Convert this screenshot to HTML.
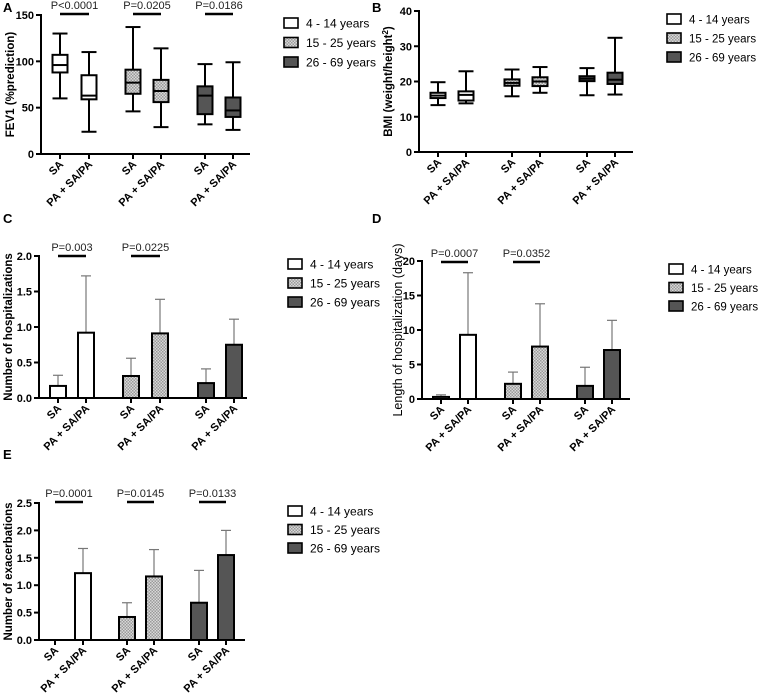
<!DOCTYPE html>
<html><head><meta charset="utf-8"><style>
body{margin:0;background:#fff}
svg{display:block;font-family:"Liberation Sans",Arial,sans-serif}
</style></head><body>
<svg id="fig" width="758" height="694" viewBox="0 0 758 694">
<defs>
<pattern id="dots" width="3" height="3" patternUnits="userSpaceOnUse">
<rect width="3" height="3" fill="#d8d8d8"/><rect width="1.5" height="1.5" fill="#9a9a9a"/><rect x="1.5" y="1.5" width="1.5" height="1.5" fill="#9a9a9a"/>
</pattern>
</defs>
</svg>
<script>
const categories = ["SA","PA + SA/PA","SA","PA + SA/PA","SA","PA + SA/PA"];
const groupLabels = ["4 - 14 years","15 - 25 years","26 - 69 years"];
// Panel A box stats
const fevMin=[60,24,46,29,32,26], fevQ1=[88,59,65,56,43,40], fevMed=[96,63,77,68,63,47], fevQ3=[107,85,91,80,73,61], fevMax=[130,110,137,114,97,99];
const fevTicks=[0,50,100,150];
const fevP=["P<0.0001","P=0.0205","P=0.0186"];
// Panel B
const bmiMin=[13.3,13.8,15.8,16.8,16.1,16.3], bmiQ1=[15.3,14.6,18.8,18.7,20.1,19.3], bmiMed=[16,16.2,19.6,20,20.8,20.5], bmiQ3=[16.8,17.2,20.6,21.2,21.5,22.5], bmiMax=[19.8,22.9,23.4,24.1,23.8,32.4];
const bmiTicks=[0,10,20,30,40];
// Panel C
const hospMean=[0.17,0.92,0.31,0.91,0.21,0.75], hospErr=[0.32,1.72,0.56,1.39,0.41,1.11];
const hospTicks=[0,0.5,1.0,1.5,2.0];
const hospP=["P=0.003","P=0.0225"];
// Panel D
const losMean=[0.3,9.3,2.2,7.6,1.9,7.1], losErr=[0.6,18.3,3.9,13.8,4.6,11.4];
const losTicks=[0,5,10,15,20];
const losP=["P=0.0007","P=0.0352"];
// Panel E
const exMean=[0,1.22,0.42,1.16,0.68,1.55], exErr=[0,1.67,0.68,1.65,1.27,2.0];
const exTicks=[0,0.5,1.0,1.5,2.0,2.5];
const exP=["P=0.0001","P=0.0145","P=0.0133"];

const NS="http://www.w3.org/2000/svg";
const svg=document.getElementById('fig');
const fills=["#ffffff","url(#dots)","#555555"];
function el(tag,attrs,parent,text){const e=document.createElementNS(NS,tag);for(const k in attrs)e.setAttribute(k,attrs[k]);if(text!==undefined)e.textContent=text;(parent||svg).appendChild(e);return e;}

function panel(cfg){
  const g=el('g',{});
  
  
  const y=v=>cfg.y0+(cfg.y1-cfg.y0)*(v-cfg.ticks[0])/(cfg.ticks[cfg.ticks.length-1]-cfg.ticks[0]);
  const lt=el('text',{x:cfg.lx,y:cfg.ly,'font-size':13,'font-weight':'bold'},g,cfg.letter);
  
  
  const ax=el('line',{x1:cfg.ax,y1:cfg.y1-1,x2:cfg.ax,y2:cfg.y0+1,stroke:'#000','stroke-width':2},g);
  
  
  const xa=el('line',{x1:cfg.ax-1,y1:cfg.y0,x2:cfg.axEnd,y2:cfg.y0,stroke:'#000','stroke-width':2},g);
  
  
  cfg.ticks.forEach(t=>{
    el('line',{x1:cfg.ax-5,y1:y(t),x2:cfg.ax,y2:y(t),stroke:'#000','stroke-width':2},g);
    const tl=el('text',{x:cfg.ax-7,y:y(t)+4,'font-size':11,'font-weight':'bold','text-anchor':'end'},g,cfg.fmt(t));
    
    
  });
  const yt=el('text',{transform:`translate(${cfg.ytx},${(cfg.y0+cfg.y1)/2}) rotate(-90)`,'font-size':cfg.ytSize||11.5,'font-weight':cfg.ytWeight||'bold','text-anchor':'middle'},g);
  
  
  yt.innerHTML=cfg.ytitle;
  cfg.cx.forEach((cx,i)=>{
    el('line',{x1:cx,y1:cfg.y0,x2:cx,y2:cfg.y0+5,stroke:'#000','stroke-width':2},g);
    const xl=el('text',{transform:`translate(${cx+4},${cfg.y0+11}) rotate(-45)`,'font-size':11,'font-weight':'bold','text-anchor':'end'},g,categories[i]);
    
    
  });
  cfg.cx.forEach((cx,i)=>{
    const f=fills[Math.floor(i/2)];
    if(cfg.type==='box'){
      const w=15;
      const wl=el('line',{x1:cx,y1:y(cfg.max[i]),x2:cx,y2:y(cfg.min[i]),stroke:'#000','stroke-width':2},g);
      
      
      el('line',{x1:cx-w/2,y1:y(cfg.max[i]),x2:cx+w/2,y2:y(cfg.max[i]),stroke:'#000','stroke-width':2},g);
      el('line',{x1:cx-w/2,y1:y(cfg.min[i]),x2:cx+w/2,y2:y(cfg.min[i]),stroke:'#000','stroke-width':2},g);
      const b=el('rect',{x:cx-w/2,y:y(cfg.q3[i]),width:w,height:y(cfg.q1[i])-y(cfg.q3[i]),fill:f,stroke:'#000','stroke-width':2},g);
      
      
      el('line',{x1:cx-w/2,y1:y(cfg.med[i]),x2:cx+w/2,y2:y(cfg.med[i]),stroke:'#000','stroke-width':2},g);
    } else {
      const w=16;
      if(cfg.err[i]>cfg.mean[i]){
        const e=el('line',{x1:cx,y1:y(cfg.err[i]),x2:cx,y2:y(cfg.mean[i]),stroke:'#777','stroke-width':1.2},g);
        
        
        el('line',{x1:cx-5,y1:y(cfg.err[i]),x2:cx+5,y2:y(cfg.err[i]),stroke:'#777','stroke-width':1.2},g);
      }
      if(cfg.mean[i]>0){
        const b=el('rect',{x:cx-w/2,y:y(cfg.mean[i]),width:w,height:cfg.y0-y(cfg.mean[i]),fill:f,stroke:'#000','stroke-width':2},g);
        
        
      }
    }
  });
  cfg.pvals.forEach((p,k)=>{
    const a=cfg.cx[2*k],b=cfg.cx[2*k+1];
    const pl=el('line',{x1:a,y1:cfg.py,x2:b,y2:cfg.py,stroke:'#000','stroke-width':2.5},g);
    
    
    const pt=el('text',{x:(a+b)/2,y:cfg.py-5,'font-size':11,'text-anchor':'middle',fill:'#222'},g,p);
    
    
  });
  const lg=el('g',{},g);
  
  
  groupLabels.forEach((s,k)=>{
    const ry=cfg.legY+k*cfg.legDy;
    el('rect',{x:cfg.legX,y:ry-5,width:14,height:10,fill:fills[k],stroke:'#000','stroke-width':1.6},lg);
    const t=el('text',{x:cfg.legX+22,y:ry+4.5,'font-size':cfg.legFont},lg,s);
    
    
  });
}
const fmt0=t=>String(t), fmt1=t=>t.toFixed(1);
panel({name:'panel-a-fev1',letter:'A',lx:3,ly:12,type:'box',ax:41,axEnd:250,y0:154,y1:15,ticks:fevTicks,fmt:fmt0,ytx:14,ytitle:'FEV1 (%prediction)',cx:[60,89,133,161,205,233],min:fevMin,q1:fevQ1,med:fevMed,q3:fevQ3,max:fevMax,pvals:fevP,py:14,legX:284,legY:23,legDy:19.5,legFont:12});
panel({name:'panel-b-bmi',letter:'B',lx:372,ly:12,type:'box',ax:419,axEnd:633,y0:152,y1:11,ticks:bmiTicks,fmt:fmt0,ytx:392,ytitle:'BMI (weight/height<tspan font-size="8" dy="-4">2</tspan><tspan dy="4">)</tspan>',cx:[438,466,512,540,587,615],min:bmiMin,q1:bmiQ1,med:bmiMed,q3:bmiQ3,max:bmiMax,pvals:[],legX:667,legY:19,legDy:19,legFont:11.5});
panel({name:'panel-c-hospitalizations',letter:'C',lx:3,ly:223,type:'bar',ax:39,axEnd:247,y0:398,y1:256,ticks:hospTicks,fmt:fmt1,ytx:12,ytitle:'Number of hospitalizations',cx:[58,86,131,160,206,234],mean:hospMean,err:hospErr,pvals:hospP,py:256,legX:288,legY:264,legDy:19,legFont:12});
panel({name:'panel-d-length-of-stay',letter:'D',lx:372,ly:223,type:'bar',ax:422,axEnd:630,y0:399,y1:261,ticks:losTicks,fmt:fmt0,ytx:402,ytSize:12.5,ytWeight:'normal',ytitle:'Length of hospitalization (days)',cx:[441,468,513,540,585,612],mean:losMean,err:losErr,pvals:losP,py:262,legX:669,legY:269,legDy:18.5,legFont:11.5});
panel({name:'panel-e-exacerbations',letter:'E',lx:3,ly:459,type:'bar',ax:39,axEnd:245,y0:640,y1:503,ticks:exTicks,fmt:fmt1,ytx:12,ytitle:'Number of exacerbations',cx:[55,83,127,154,199,226],mean:exMean,err:exErr,pvals:exP,py:502,legX:288,legY:511,legDy:18.5,legFont:12});
</script>
</body></html>
